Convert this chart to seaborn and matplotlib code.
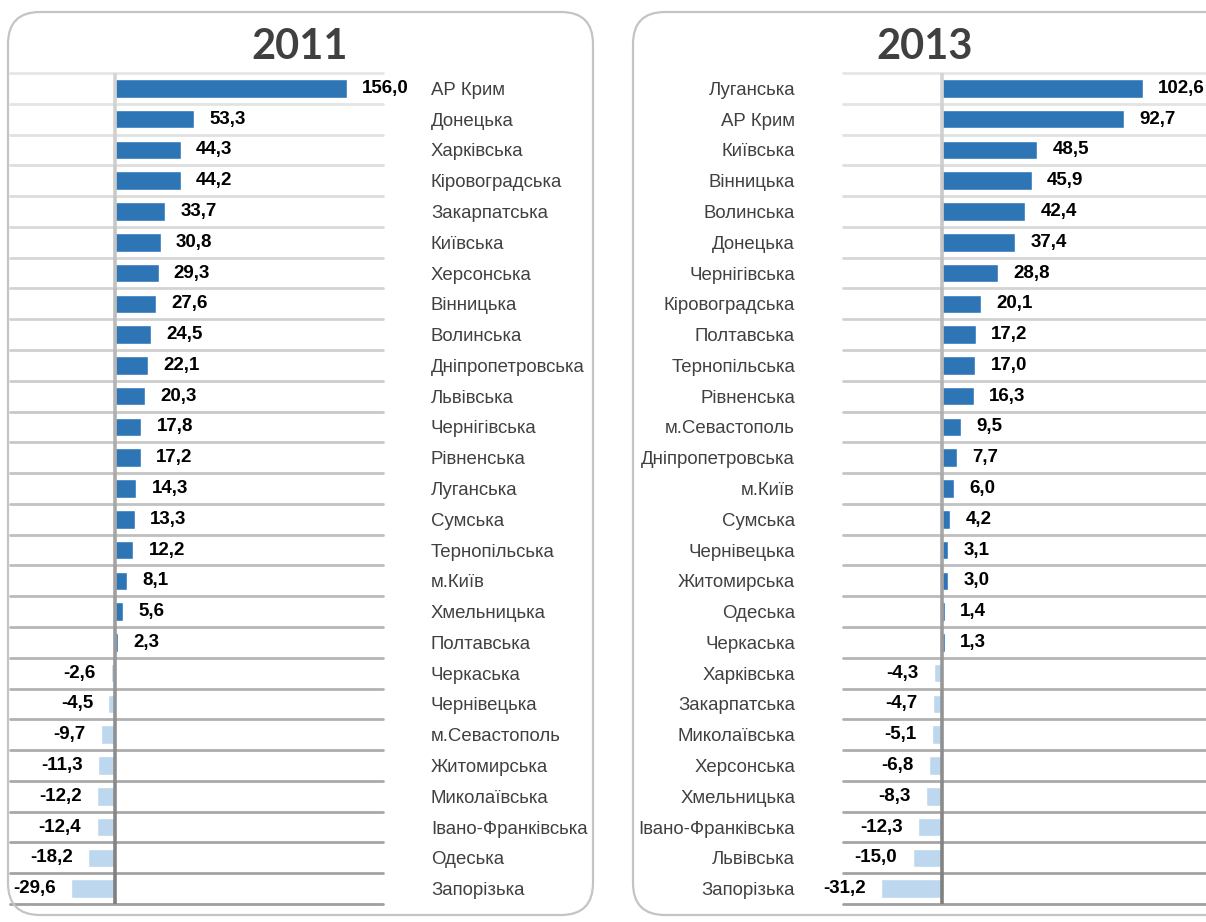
import numpy as np
import matplotlib
matplotlib.use("Agg")
import matplotlib.pyplot as plt
import seaborn as sns
from matplotlib.patches import FancyBboxPatch
from matplotlib.colors import to_rgb

# data (growth, %)
regions_2011 = ["АР Крим", "Донецька", "Харківська", "Кіровоградська", "Закарпатська",
                "Київська", "Херсонська", "Вінницька", "Волинська", "Дніпропетровська",
                "Львівська", "Чернігівська", "Рівненська", "Луганська", "Сумська",
                "Тернопільська", "м.Київ", "Хмельницька", "Полтавська", "Черкаська",
                "Чернівецька", "м.Севастополь", "Житомирська", "Миколаївська",
                "Івано-Франківська", "Одеська", "Запорізька"]
values_2011 = [156.0, 53.3, 44.3, 44.2, 33.7, 30.8, 29.3, 27.6, 24.5, 22.1, 20.3, 17.8,
               17.2, 14.3, 13.3, 12.2, 8.1, 5.6, 2.3, -2.6, -4.5, -9.7, -11.3, -12.2,
               -12.4, -18.2, -29.6]

regions_2013 = ["Луганська", "АР Крим", "Київська", "Вінницька", "Волинська", "Донецька",
                "Чернігівська", "Кіровоградська", "Полтавська", "Тернопільська",
                "Рівненська", "м.Севастополь", "Дніпропетровська", "м.Київ", "Сумська",
                "Чернівецька", "Житомирська", "Одеська", "Черкаська", "Харківська",
                "Закарпатська", "Миколаївська", "Херсонська", "Хмельницька",
                "Івано-Франківська", "Львівська", "Запорізька"]
values_2013 = [102.6, 92.7, 48.5, 45.9, 42.4, 37.4, 28.8, 20.1, 17.2, 17.0, 16.3, 9.5,
               7.7, 6.0, 4.2, 3.1, 3.0, 1.4, 1.3, -4.3, -4.7, -5.1, -6.8, -8.3, -12.3,
               -15.0, -31.2]

POS = "#2E75B6"
NEG = "#BDD7EE"

sns.set_theme(style="white")
plt.rcParams['font.family'] = ['Liberation Sans', 'DejaVu Sans']

W, H = 1206, 922
fig = plt.figure(figsize=(W / 100, H / 100), dpi=100)


def px_axes(x0, x1, y0, y1):
    return fig.add_axes([x0 / W, 1 - y1 / H, (x1 - x0) / W, (y1 - y0) / H])


def grad(t, c0, c1):
    a, b = np.array(to_rgb(c0)), np.array(to_rgb(c1))
    return tuple(a + (b - a) * t)


def panel(ax, names, vals, xlim, right_labels):
    n = len(names)
    sign = ["pos" if v >= 0 else "neg" for v in vals]
    sns.barplot(x=vals, y=names, hue=sign, palette={"pos": POS, "neg": NEG},
                dodge=False, legend=False, width=0.6, saturation=1, orient="h", ax=ax)
    ax.set_xlim(*xlim)
    ax.set_ylim(n - 0.5, -0.5)

    # row separators, getting darker towards the bottom
    for k in range(n + 1):
        ax.axhline(k - 0.5, color=grad(k / n, "#e6e6e6", "#a0a0a0"), lw=2,
                   zorder=0, clip_on=False)
    # zero line
    for i in range(n):
        ax.plot([0, 0], [i - 0.5, i + 0.5], color=grad(i / (n - 1), "#d4d4d4", "#808080"),
                lw=2.6, solid_capstyle="butt", zorder=5, clip_on=False)

    for i, v in enumerate(vals):
        txt = f"{v:.1f}".replace(".", ",")
        ax.annotate(txt, (v, i), xytext=(11 if v >= 0 else -11, 0),
                    textcoords="offset points", ha="left" if v >= 0 else "right",
                    va="center", fontsize=13.5, fontweight="bold", color="black")

    ax.set_yticks(range(n))
    ax.set_yticklabels(names, fontsize=13.4, color="#404040")
    if right_labels:
        ax.yaxis.tick_right()
    ax.tick_params(axis="y", length=0, pad=34.5)
    ax.set_xticks([])
    ax.set_xlabel("")
    ax.set_ylabel("")
    for s in ax.spines.values():
        s.set_visible(False)
    ax.patch.set_alpha(0)


# rounded frames
for x0, x1 in [(8, 593), (633, 1240)]:
    box = FancyBboxPatch((x0 / 100, (H - 915) / 100), (x1 - x0) / 100, 9.03,
                         boxstyle="round,pad=0,rounding_size=0.32",
                         transform=fig.dpi_scale_trans, facecolor="none",
                         edgecolor="#c4c4c4", lw=1.6)
    fig.add_artist(box)

ax1 = px_axes(10, 383, 73, 904)
panel(ax1, regions_2011, values_2011, (-70.6, 180.2), True)

ax2 = px_axes(843, 1206, 73, 904)
panel(ax2, regions_2013, values_2013, (-50.5, 134.7), False)

fig.text(300 / W, 1 - 47 / H, "2011", ha="center", va="center", fontsize=30,
         fontweight="bold", color="#404040", family="Lato")
fig.text(925 / W, 1 - 47 / H, "2013", ha="center", va="center", fontsize=30,
         fontweight="bold", color="#404040", family="Lato")

fig.savefig("out.png", dpi=100)
